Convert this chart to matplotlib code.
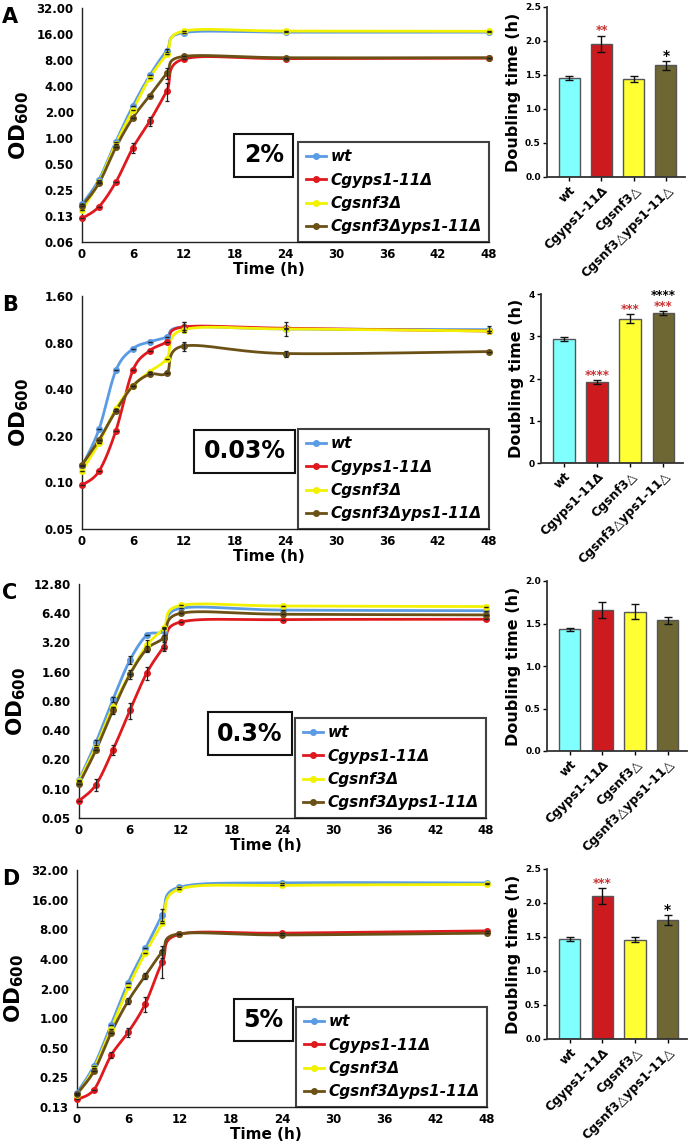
import numpy as np
import matplotlib.pyplot as plt

# ---------------- data ----------------
time = [0, 2, 4, 6, 8, 10, 12, 24, 48]
strains = ["wt", "Cgyps1-11Δ", "Cgsnf3Δ", "Cgsnf3Δyps1-11Δ"]
bar_names = ["wt", "Cgyps1-11Δ", "Cgsnf3△", "Cgsnf3△yps1-11△"]
line_colors = ["#5B9BE3", "#E0191F", "#F2F200", "#6B5116"]
bar_colors = ["#80FFFF", "#CC1A1F", "#FFFF33", "#6E6633"]

# panel A (2%)
a_wt = [0.17, 0.33, 0.91, 2.35, 5.3, 10.3, 16.6, 16.8, 16.8]
a_yps = [0.117, 0.16, 0.31, 0.77, 1.57, 3.5, 8.2, 8.3, 8.4]
a_snf = [0.146, 0.31, 0.86, 2.1, 5.0, 9.3, 17.3, 17.3, 17.2]
a_dbl = [0.163, 0.30, 0.78, 1.72, 3.1, 5.6, 8.8, 8.5, 8.5]
a_err = [[0, 0, 0, 0, 0, 0.5, 0, 0, 0],
         [0, 0, 0, 0.1, 0.2, 0.8, 0, 0, 0],
         [0, 0, 0, 0, 0, 0, 0, 0, 0],
         [0, 0, 0, 0, 0, 0.8, 0, 0, 0]]
a_ticks = [0.0625, 0.125, 0.25, 0.5, 1, 2, 4, 8, 16, 32]
a_ticklabels = ["0.06", "0.13", "0.25", "0.50", "1.00", "2.00", "4.00", "8.00", "16.00", "32.00"]

# panel B (0.03%)
b_wt = [0.127, 0.22, 0.53, 0.73, 0.81, 0.87, 1.01, 0.98, 0.97]
b_yps = [0.096, 0.118, 0.216, 0.53, 0.71, 0.81, 1.01, 0.99, 0.95]
b_snf = [0.119, 0.18, 0.30, 0.42, 0.52, 0.63, 0.97, 0.98, 0.95]
b_dbl = [0.13, 0.188, 0.29, 0.42, 0.50, 0.51, 0.76, 0.68, 0.70]
b_err = [[0, 0, 0, 0, 0, 0, 0.08, 0.1, 0.05],
         [0, 0, 0, 0, 0, 0, 0.08, 0, 0],
         [0, 0, 0, 0, 0, 0, 0, 0, 0],
         [0, 0, 0, 0, 0, 0, 0.05, 0.03, 0]]
b_ticks = [0.05, 0.1, 0.2, 0.4, 0.8, 1.6]
b_ticklabels = ["0.05", "0.10", "0.20", "0.40", "0.80", "1.60"]

# panel C (0.3%)
c_wt = [0.123, 0.30, 0.83, 2.1, 3.8, 4.2, 7.2, 6.9, 6.8]
c_yps = [0.075, 0.11, 0.25, 0.64, 1.56, 2.9, 5.2, 5.5, 5.55]
c_snf = [0.12, 0.27, 0.70, 1.53, 3.0, 4.5, 7.7, 7.6, 7.5]
c_dbl = [0.112, 0.25, 0.64, 1.5, 2.75, 3.6, 6.4, 6.25, 6.15]
c_err = [[0, 0.02, 0.05, 0.2, 0, 0.4, 0, 0, 0],
         [0, 0.015, 0.03, 0.12, 0.25, 0.3, 0, 0, 0],
         [0, 0, 0, 0, 0.4, 0, 0, 0, 0],
         [0, 0, 0.05, 0.15, 0.2, 0.8, 0, 0, 0]]
c_ticks = [0.05, 0.1, 0.2, 0.4, 0.8, 1.6, 3.2, 6.4, 12.8]
c_ticklabels = ["0.05", "0.10", "0.20", "0.40", "0.80", "1.60", "3.20", "6.40", "12.80"]

# panel D (5%)
d_wt = [0.174, 0.33, 0.86, 2.3, 5.1, 11.2, 21.4, 23.7, 23.6]
d_yps = [0.149, 0.188, 0.42, 0.72, 1.4, 3.75, 7.1, 7.3, 7.7]
d_snf = [0.164, 0.31, 0.78, 2.05, 4.6, 9.3, 20.5, 22.3, 22.8]
d_dbl = [0.17, 0.29, 0.71, 1.5, 2.7, 4.75, 7.2, 7.0, 7.3]
d_err = [[0, 0, 0, 0, 0, 1.6, 0, 0, 0],
         [0, 0, 0.03, 0.08, 0.25, 1.2, 0, 0, 0],
         [0, 0, 0, 0, 0, 0, 0, 0, 0],
         [0, 0, 0, 0.1, 0.2, 0.7, 0, 0, 0]]
d_ticks = [0.125, 0.25, 0.5, 1, 2, 4, 8, 16, 32]
d_ticklabels = ["0.13", "0.25", "0.50", "1.00", "2.00", "4.00", "8.00", "16.00", "32.00"]

# doubling times
a_dt = [1.45, 1.96, 1.44, 1.64]
a_dt_err = [0.03, 0.12, 0.05, 0.06]
a_stars = ["", "**", "", "*"]
a_star_cols = ["k", "#C83232", "k", "k"]
b_dt = [2.93, 1.92, 3.42, 3.55]
b_dt_err = [0.05, 0.04, 0.11, 0.05]
b_stars = ["", "****", "***", "***"]
b_star_cols = ["k", "#C83232", "#C83232", "#C83232"]
b_stars2 = ["", "", "", "****"]
c_dt = [1.43, 1.66, 1.64, 1.54]
c_dt_err = [0.02, 0.09, 0.09, 0.04]
c_stars = ["", "", "", ""]
c_star_cols = ["k", "k", "k", "k"]
d_dt = [1.47, 2.10, 1.46, 1.75]
d_dt_err = [0.03, 0.12, 0.04, 0.07]
d_stars = ["", "***", "", "*"]
d_star_cols = ["k", "#C83232", "k", "k"]

W, H = 688, 1144


def box(l, t, r, b):
    return [l / W, 1 - b / H, (r - l) / W, (b - t) / H]


def smooth(ax, x, y, n=30):
    # Excel-like bezier smoothing done in display space
    pts = ax.transData.transform(np.column_stack([x, y]))
    out = [pts[:1]]
    for i in range(len(pts) - 1):
        p0 = pts[max(i - 1, 0)]
        p1 = pts[i]
        p2 = pts[i + 1]
        p3 = pts[min(i + 2, len(pts) - 1)]
        c1 = p1 + (p2 - p0) / 6
        c2 = p2 - (p3 - p1) / 6
        t = np.linspace(0, 1, n)[1:, None]
        seg = (1 - t) ** 3 * p1 + 3 * (1 - t) ** 2 * t * c1 + 3 * (1 - t) * t ** 2 * c2 + t ** 3 * p2
        out.append(seg)
    d = ax.transData.inverted().transform(np.vstack(out))
    return d[:, 0], d[:, 1]


fig = plt.figure(figsize=(6.88, 11.44), dpi=100)

panels = [
    ("A", "2%", [a_wt, a_yps, a_snf, a_dbl], a_err, a_ticks, a_ticklabels,
     box(82, 8, 489, 242), (0.447, 0.37), box(547, 7, 685, 177),
     a_dt, a_dt_err, a_stars, a_star_cols, None, [0, 0.5, 1.0, 1.5, 2.0, 2.5], "%.1f"),
    ("B", "0.03%", [b_wt, b_yps, b_snf, b_dbl], b_err, b_ticks, b_ticklabels,
     box(82, 296, 489, 529), (0.40, 0.333), box(541, 294, 683, 463),
     b_dt, b_dt_err, b_stars, b_star_cols, b_stars2, [0, 1, 2, 3, 4], "%d"),
    ("C", "0.3%", [c_wt, c_yps, c_snf, c_dbl], c_err, c_ticks, c_ticklabels,
     box(79, 584, 486, 818), (0.42, 0.36), box(547, 581, 687, 751),
     c_dt, c_dt_err, c_stars, c_star_cols, None, [0, 0.5, 1.0, 1.5, 2.0], "%.1f"),
    ("D", "5%", [d_wt, d_yps, d_snf, d_dbl], d_err, d_ticks, d_ticklabels,
     box(77, 870, 487, 1107), (0.455, 0.367), box(547, 869, 687, 1039),
     d_dt, d_dt_err, d_stars, d_star_cols, None, [0, 0.5, 1.0, 1.5, 2.0, 2.5], "%.1f"),
]

for (letter, pct, series, errs, yt, ytl, lpos, pctpos, bpos,
     dt, dterr, stars, starcols, stars2, byt, bfmt) in panels:
    # ---- growth curves ----
    ax = fig.add_axes(lpos)
    ax.set_yscale("log", base=2)
    ax.set_xlim(0, 48)
    ax.set_ylim(yt[0], yt[-1])
    ax.set_yticks(yt)
    ax.set_yticklabels(ytl)
    ax.minorticks_off()
    ax.set_xticks([0, 6, 12, 18, 24, 30, 36, 42, 48])
    ax.tick_params(length=0, labelsize=8.5)
    ax.tick_params(axis="x", pad=4)
    ax.tick_params(axis="y", pad=6)
    for lab in ax.get_xticklabels() + ax.get_yticklabels():
        lab.set_fontweight("bold")
    for s in ["top", "right"]:
        ax.spines[s].set_visible(False)
    for s in ["left", "bottom"]:
        ax.spines[s].set_color("#222222")
        ax.spines[s].set_linewidth(1.0)
    for vals, err, col, name in zip(series, errs, line_colors, strains):
        sx, sy = smooth(ax, time, vals)
        ax.plot(sx, sy, color=col, lw=2.0, clip_on=False, zorder=3)
        ax.plot(time, vals, "o", color=col, ms=4, clip_on=False, zorder=4)
        ax.errorbar(time, vals, yerr=err, fmt="none", ecolor="#222222",
                    elinewidth=0.9, capsize=1.5, capthick=0.9, clip_on=False, zorder=5)
        ax.plot([], [], "-o", color=col, lw=2.0, ms=4, label=name)
    leg = ax.legend(loc="lower right", bbox_to_anchor=(1.0, 0.0), borderaxespad=0,
                    frameon=True, fancybox=False, handlelength=1.3, handletextpad=0.3,
                    labelspacing=0.55, borderpad=0.5,
                    prop={"weight": "bold", "style": "italic", "size": 11})
    leg.get_frame().set_edgecolor("#111111")
    leg.get_frame().set_linewidth(1.5)
    ax.text(pctpos[0], pctpos[1], pct, transform=ax.transAxes, ha="center", va="center",
            fontsize=17, fontweight="bold",
            bbox=dict(boxstyle="square,pad=0.4", fc="white", ec="#111111", lw=1.5))
    ax.set_xlabel("Time (h)", fontsize=11, fontweight="bold", labelpad=0)
    ax.xaxis.set_label_coords(0.46, -0.085)
    ax.set_ylabel(r"$\mathbf{OD_{600}}$", fontsize=15.5)
    ax.yaxis.set_label_coords(-0.125, 0.5)
    top_px = (1 - lpos[1] - lpos[3]) * H
    fig.text(2 / W, 1 - (top_px + 9) / H, letter, fontsize=15, fontweight="bold",
             ha="left", va="center")

    # ---- doubling time bars ----
    bx = fig.add_axes(bpos)
    xs = np.arange(len(dt))
    bx.bar(xs, dt, width=0.65, color=bar_colors, edgecolor="#555555", linewidth=1.0)
    bx.errorbar(xs, dt, yerr=dterr, fmt="none", ecolor="#111111", elinewidth=1.0,
                capsize=3, capthick=1.0)
    bx.set_xlim(-0.69, 3.59)
    bx.set_ylim(byt[0], byt[-1])
    bx.set_yticks(byt)
    bx.set_yticklabels([bfmt % v for v in byt])
    bx.set_xticks(xs)
    bx.set_xticklabels(bar_names, rotation=45, ha="right", rotation_mode="anchor")
    bx.tick_params(axis="y", labelsize=6.5, length=3, width=1, pad=1.5)
    bx.tick_params(axis="x", labelsize=9, length=3, width=1, pad=2)
    for lab in bx.get_xticklabels() + bx.get_yticklabels():
        lab.set_fontweight("bold")
    for s in ["top", "right"]:
        bx.spines[s].set_visible(False)
    for s in ["left", "bottom"]:
        bx.spines[s].set_color("#333333")
        bx.spines[s].set_linewidth(1.3)
    bx.set_ylabel("Doubling time (h)", fontsize=11.5, fontweight="bold", labelpad=3)
    span = byt[-1] - byt[0]
    for i in range(len(dt)):
        if stars[i]:
            fs = 8.5 if starcols[i] != "k" else 10
            bx.text(xs[i], dt[i] + dterr[i] - 0.01 * span, stars[i], ha="center",
                    va="bottom", color=starcols[i], fontsize=fs, fontweight="bold")
        if stars2 is not None and stars2[i]:
            bx.text(xs[i], dt[i] + dterr[i] + 0.055 * span, stars2[i], ha="center",
                    va="bottom", color="k", fontsize=8.5, fontweight="bold")

fig.savefig("out.png", dpi=100)
